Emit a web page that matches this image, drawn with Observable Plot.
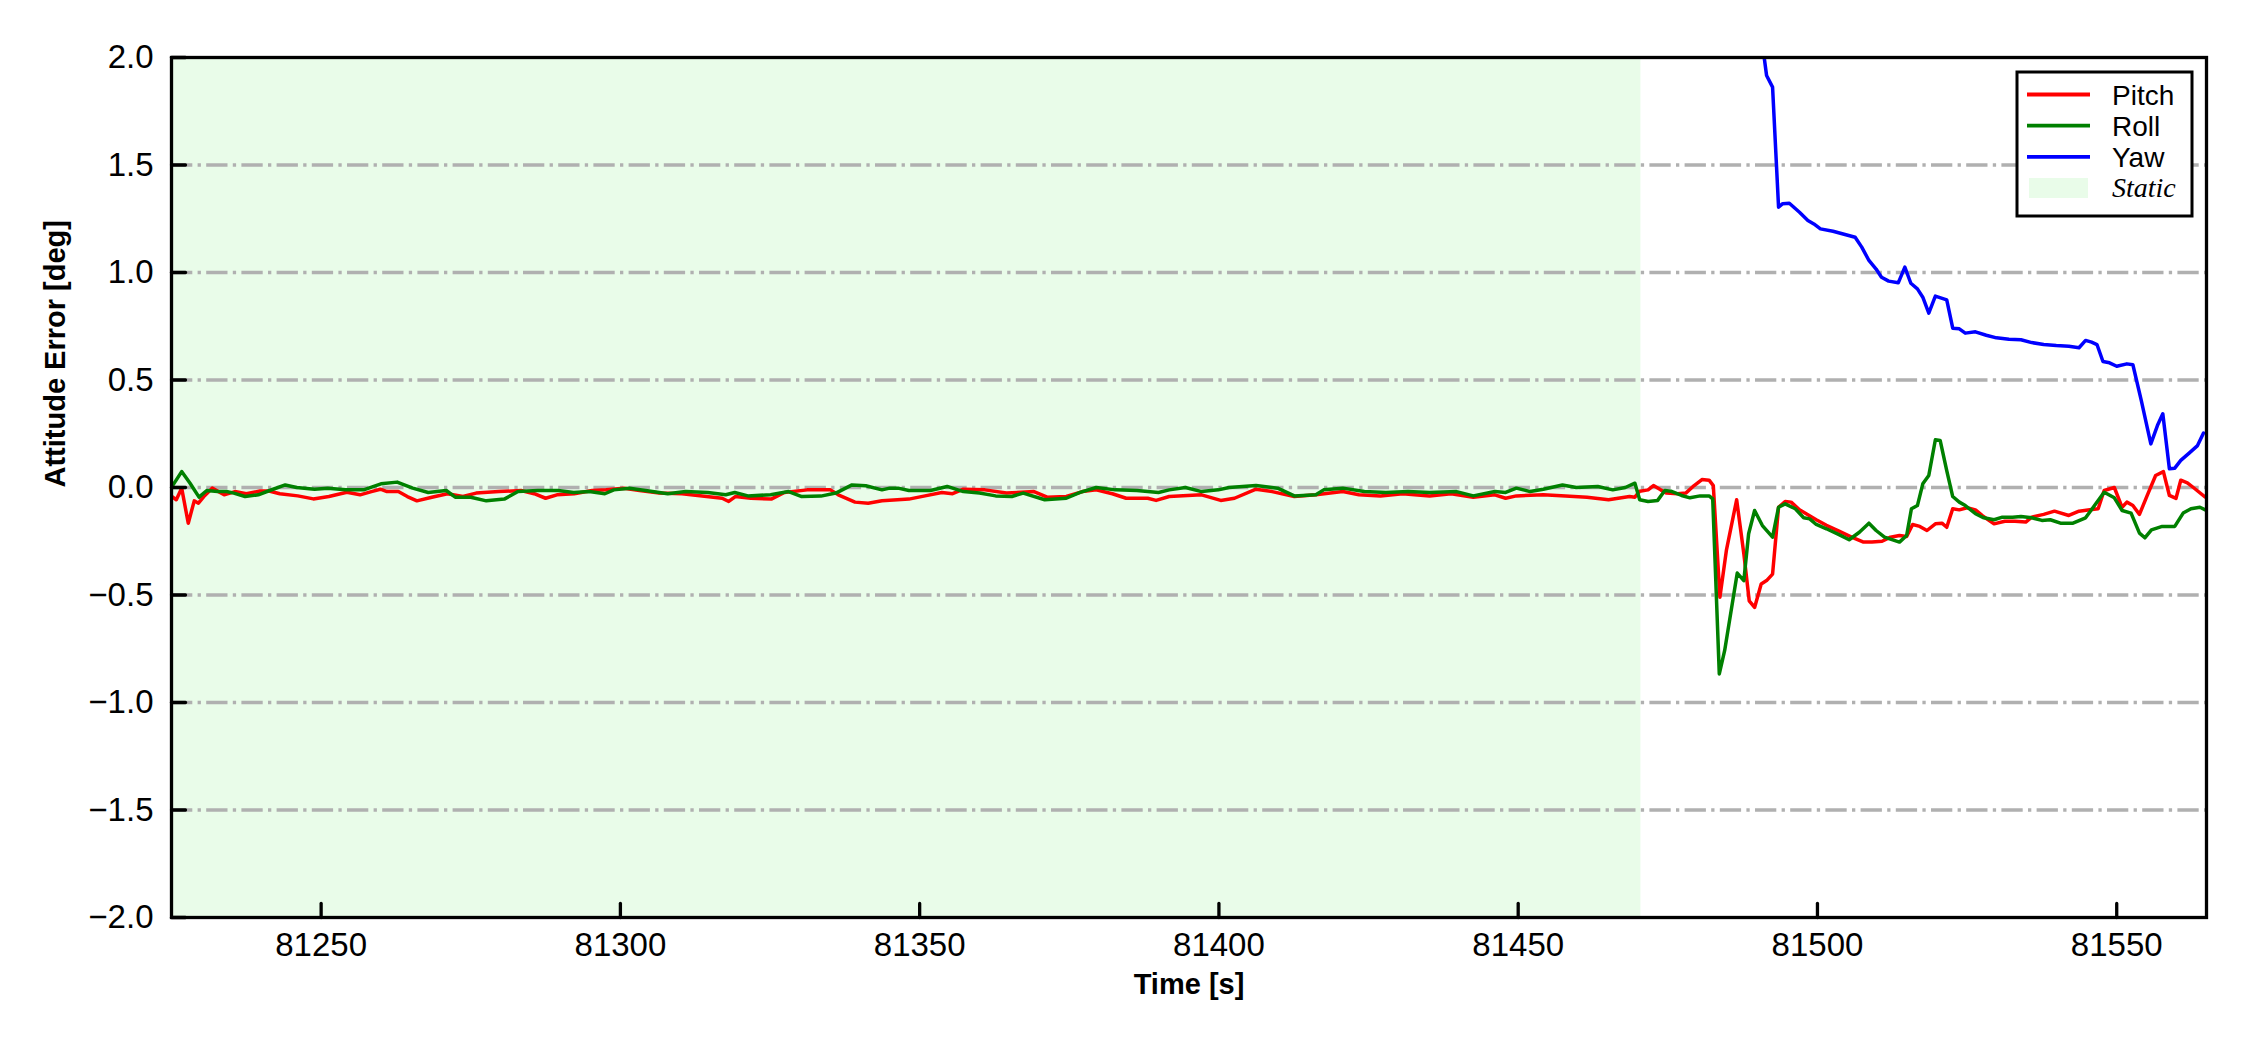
<!DOCTYPE html>
<html><head><meta charset="utf-8">
<script src="https://cdn.jsdelivr.net/npm/d3@7"></script>
<script src="https://cdn.jsdelivr.net/npm/@observablehq/plot@0.6"></script>
<style>html,body{margin:0;padding:0;background:#fff;} #chart{position:relative;width:2250px;height:1050px;}</style>
</head><body><div id="chart"></div>
<script>
// ---- data (time [s], error [deg]) ----
const pitch = [[81225.1,-0.042],[81225.8,-0.057],[81226.7,-0.003],[81227.8,-0.166],[81228.8,-0.062],[81229.5,-0.073],[81230.4,-0.042],[81231.8,-0.003],[81233.8,-0.034],[81235.6,-0.019],[81237.5,-0.029],[81239.8,-0.016],[81241.3,-0.016],[81243.1,-0.029],[81246.1,-0.039],[81248.7,-0.053],[81251.3,-0.042],[81254.3,-0.022],[81256.5,-0.034],[81258.4,-0.019],[81259.9,-0.008],[81261.0,-0.019],[81262.9,-0.019],[81264.4,-0.042],[81266.0,-0.062],[81268.5,-0.045],[81271.1,-0.029],[81273.7,-0.042],[81275.9,-0.026],[81279.7,-0.019],[81283.4,-0.014],[81285.6,-0.029],[81287.5,-0.05],[81289.4,-0.034],[81292.3,-0.029],[81295.3,-0.014],[81297.6,-0.011],[81300.6,-0.003],[81303.2,-0.014],[81306.5,-0.026],[81310.3,-0.029],[81314.4,-0.042],[81317.0,-0.05],[81318.1,-0.065],[81319.2,-0.042],[81321.8,-0.05],[81325.2,-0.054],[81327.4,-0.023],[81331.2,-0.011],[81335.1,-0.011],[81336.4,-0.034],[81339.2,-0.068],[81341.4,-0.073],[81343.7,-0.062],[81348.2,-0.054],[81350.9,-0.039],[81353.7,-0.023],[81355.5,-0.029],[81357.3,-0.008],[81360.9,-0.011],[81364.5,-0.026],[81369.1,-0.019],[81371.3,-0.045],[81374.5,-0.042],[81377.2,-0.019],[81379.5,-0.011],[81382.2,-0.029],[81384.5,-0.05],[81388.1,-0.05],[81389.5,-0.06],[81391.7,-0.042],[81397.1,-0.034],[81400.3,-0.06],[81402.6,-0.05],[81406.2,-0.008],[81408.9,-0.019],[81412.6,-0.042],[81416.2,-0.034],[81420.7,-0.019],[81423.4,-0.034],[81427.0,-0.039],[81430.7,-0.029],[81435.2,-0.039],[81438.8,-0.029],[81442.5,-0.045],[81446.1,-0.034],[81447.9,-0.05],[81449.7,-0.039],[81454.2,-0.034],[81457.9,-0.039],[81461.5,-0.045],[81465.1,-0.057],[81468.6,-0.042],[81469.5,-0.045],[81470.3,-0.017],[81471.7,-0.011],[81472.6,0.009],[81473.8,-0.011],[81474.8,-0.026],[81476.6,-0.029],[81478.0,-0.026],[81479.4,0.009],[81480.7,0.037],[81481.9,0.034],[81482.6,0.009],[81483.7,-0.51],[81484.8,-0.29],[81486.5,-0.057],[81487.7,-0.308],[81488.6,-0.527],[81489.5,-0.558],[81490.6,-0.449],[81491.5,-0.433],[81492.5,-0.403],[81493.5,-0.092],[81494.6,-0.065],[81495.6,-0.068],[81497.0,-0.104],[81498.4,-0.127],[81499.8,-0.15],[81501.5,-0.176],[81503.6,-0.203],[81505.7,-0.231],[81507.7,-0.254],[81509.1,-0.254],[81510.8,-0.25],[81512.2,-0.231],[81513.7,-0.223],[81514.9,-0.228],[81515.9,-0.172],[81517.1,-0.181],[81518.3,-0.2],[81519.7,-0.169],[81520.8,-0.166],[81521.6,-0.185],[81522.6,-0.099],[81523.7,-0.104],[81525.0,-0.094],[81526.4,-0.104],[81527.5,-0.13],[81529.5,-0.169],[81531.3,-0.157],[81533.0,-0.157],[81534.8,-0.161],[81535.8,-0.138],[81537.8,-0.125],[81539.6,-0.11],[81542.0,-0.13],[81543.7,-0.11],[81545.5,-0.104],[81546.9,-0.099],[81547.9,-0.014],[81549.6,0.0],[81550.9,-0.092],[81551.7,-0.068],[81552.7,-0.084],[81553.8,-0.125],[81555.1,-0.037],[81556.5,0.056],[81557.8,0.074],[81558.8,-0.037],[81559.9,-0.051],[81560.7,0.034],[81561.8,0.022],[81562.8,0.0],[81564.8,-0.045]];

const roll = [[81225.1,0.005],[81226.7,0.074],[81228.1,0.02],[81229.6,-0.045],[81230.9,-0.014],[81232.7,-0.019],[81234.2,-0.019],[81235.4,-0.026],[81237.3,-0.042],[81239.5,-0.034],[81241.4,-0.014],[81244.0,0.012],[81245.9,0.0],[81248.9,-0.008],[81251.1,-0.003],[81254.1,-0.011],[81257.1,-0.011],[81260.0,0.017],[81262.7,0.025],[81265.3,-0.003],[81267.9,-0.023],[81270.9,-0.014],[81272.4,-0.045],[81275.0,-0.045],[81277.6,-0.062],[81280.6,-0.054],[81282.9,-0.019],[81286.2,-0.014],[81289.6,-0.014],[81292.2,-0.023],[81294.8,-0.019],[81297.4,-0.029],[81298.9,-0.011],[81301.5,-0.003],[81304.2,-0.014],[81307.9,-0.029],[81310.9,-0.019],[81314.6,-0.023],[81317.6,-0.034],[81319.1,-0.023],[81321.3,-0.039],[81325.1,-0.034],[81328.1,-0.019],[81330.3,-0.042],[81333.5,-0.04],[81336.0,-0.026],[81338.7,0.012],[81341.0,0.008],[81343.7,-0.011],[81345.0,-0.003],[81346.4,-0.003],[81348.2,-0.014],[81351.8,-0.014],[81354.6,0.005],[81357.3,-0.019],[81360.0,-0.026],[81362.7,-0.039],[81365.4,-0.042],[81367.3,-0.026],[81370.9,-0.057],[81374.5,-0.05],[81376.8,-0.023],[81379.5,0.0],[81382.7,-0.011],[81386.3,-0.014],[81389.9,-0.023],[81391.7,-0.011],[81394.4,0.0],[81397.1,-0.019],[81399.9,-0.011],[81401.7,0.0],[81406.2,0.009],[81409.8,-0.003],[81412.6,-0.039],[81416.2,-0.034],[81417.5,-0.011],[81420.7,-0.003],[81424.3,-0.019],[81427.9,-0.023],[81431.6,-0.019],[81435.2,-0.023],[81439.7,-0.019],[81442.5,-0.039],[81446.1,-0.019],[81447.9,-0.023],[81449.7,-0.003],[81452.0,-0.019],[81454.2,-0.008],[81457.4,0.012],[81459.7,0.0],[81463.3,0.005],[81465.8,-0.011],[81467.9,0.0],[81469.5,0.02],[81470.3,-0.057],[81471.7,-0.065],[81473.3,-0.06],[81474.5,-0.014],[81475.5,-0.017],[81477.3,-0.037],[81478.7,-0.048],[81480.4,-0.039],[81481.9,-0.039],[81482.5,-0.053],[81483.6,-0.867],[81484.5,-0.758],[81486.6,-0.398],[81487.7,-0.433],[81488.5,-0.215],[81489.5,-0.107],[81490.8,-0.177],[81492.5,-0.231],[81493.5,-0.092],[81494.6,-0.076],[81496.3,-0.099],[81497.7,-0.141],[81498.7,-0.146],[81499.8,-0.172],[81501.5,-0.192],[81503.6,-0.219],[81505.3,-0.243],[81507.0,-0.208],[81508.6,-0.166],[81509.8,-0.2],[81511.2,-0.231],[81513.7,-0.254],[81514.9,-0.223],[81515.7,-0.099],[81516.7,-0.084],[81517.6,0.017],[81518.6,0.056],[81519.7,0.222],[81520.5,0.219],[81521.6,0.079],[81522.6,-0.042],[81523.7,-0.068],[81524.7,-0.084],[81526.4,-0.122],[81527.8,-0.141],[81529.5,-0.15],[81530.9,-0.138],[81532.6,-0.138],[81534.0,-0.135],[81535.8,-0.141],[81537.5,-0.153],[81538.9,-0.15],[81540.6,-0.166],[81542.7,-0.166],[81544.8,-0.141],[81546.5,-0.076],[81547.9,-0.022],[81549.6,-0.048],[81550.9,-0.107],[81552.4,-0.119],[81553.8,-0.212],[81554.7,-0.234],[81555.8,-0.197],[81557.6,-0.181],[81559.7,-0.181],[81561.1,-0.119],[81562.4,-0.099],[81563.9,-0.092],[81564.8,-0.104]];

const yaw = [[81490.6,2.25],[81491.1,2.0],[81491.5,1.916],[81492.5,1.862],[81493.5,1.304],[81494.2,1.32],[81495.3,1.322],[81497.0,1.28],[81498.4,1.242],[81499.4,1.226],[81500.5,1.203],[81502.6,1.192],[81504.6,1.177],[81506.3,1.164],[81507.4,1.118],[81508.6,1.056],[81509.8,1.016],[81510.7,0.978],[81511.9,0.96],[81513.5,0.952],[81514.6,1.025],[81515.6,0.95],[81516.7,0.924],[81517.6,0.885],[81518.6,0.811],[81519.7,0.89],[81521.6,0.873],[81522.6,0.741],[81523.7,0.738],[81524.7,0.718],[81526.4,0.724],[81528.2,0.708],[81529.9,0.696],[81532.0,0.69],[81534.0,0.687],[81535.8,0.674],[81537.8,0.665],[81539.9,0.66],[81542.0,0.657],[81543.7,0.65],[81544.8,0.684],[81545.8,0.676],[81546.7,0.665],[81547.7,0.586],[81548.8,0.58],[81550.0,0.564],[81551.7,0.575],[81552.7,0.571],[81554.1,0.405],[81555.7,0.203],[81556.8,0.288],[81557.7,0.343],[81558.8,0.087],[81559.7,0.09],[81560.7,0.126],[81562.1,0.16],[81563.5,0.195],[81564.5,0.253]];

const staticSpan = [[81225, 81470.5]];
const xDomain = [81225, 81565];
const yDomain = [-2, 2];
const xTicks = [81250, 81300, 81350, 81400, 81450, 81500, 81550];
const yTicks = [-2, -1.5, -1, -0.5, 0, 0.5, 1, 1.5, 2];
const seriesNames = ["Pitch", "Roll", "Yaw"];
const seriesColors = ["#ff0000", "#008000", "#0000ff"];
const staticLabel = "Static";
const staticColor = "#e9fce9";
const xLabel = "Time [s]";
const yLabel = "Attitude Error [deg]";

// ---- chart ----
const tickShape = {draw(ctx, l) { ctx.moveTo(0, 0); ctx.lineTo(0, -l); }};
const fmtY = d => (d < 0 ? "\u2212" : "") + Math.abs(d).toFixed(1);
const lineOpts = (data, i) => Plot.line(data, {x: d => d[0], y: d => d[1], stroke: seriesColors[i], strokeWidth: 3.5, strokeLinejoin: "round", clip: true});

const svg = Plot.plot({
  width: 2250, height: 1050,
  marginLeft: 171, marginRight: 44, marginTop: 57, marginBottom: 133,
  style: {fontFamily: "'Liberation Sans', Arial, Helvetica, sans-serif", fontSize: "33px", background: "#fff", color: "#000"},
  x: {domain: xDomain},
  y: {domain: yDomain},
  marks: [
    Plot.rect(staticSpan, {x1: d => d[0], x2: d => d[1], y1: yDomain[0], y2: yDomain[1], fill: staticColor}),
    Plot.ruleY(yTicks.filter(v => v > yDomain[0] && v < yDomain[1]), {stroke: "#b0b0b0", strokeWidth: 3.3, strokeDasharray: "21.3,5.3,3.3,5.3"}),
    lineOpts(pitch, 0),
    lineOpts(roll, 1),
    lineOpts(yaw, 2),
    Plot.vector(yTicks, {x: xDomain[0], y: d => d, length: 14, rotate: 90, anchor: "start", shape: tickShape, stroke: "black", strokeWidth: 3.3}),
    Plot.vector(xTicks, {x: d => d, y: yDomain[0], length: 14, rotate: 0, anchor: "start", shape: tickShape, stroke: "black", strokeWidth: 3.3}),
    Plot.frame({stroke: "black", strokeWidth: 3.3}),
    Plot.axisX({ticks: xTicks, tickSize: 0, tickPadding: 15, tickFormat: d => String(d), label: null, fontSize: 33}),
    Plot.axisY({ticks: yTicks, tickSize: 0, tickPadding: 18, tickFormat: fmtY, label: null, fontSize: 33}),
    Plot.text([xLabel], {frameAnchor: "bottom", dy: 76, text: d => d, fontWeight: "bold", fontSize: 29}),
    Plot.text([yLabel], {frameAnchor: "left", dx: -116, rotate: -90, text: d => d, fontWeight: "bold", fontSize: 29})
  ]
});
document.getElementById("chart").appendChild(svg);

// ---- legend (inside axes, upper right) ----
const lg = d3.select(svg).append("g").attr("text-anchor", "start");
lg.append("rect").attr("x", 2017).attr("y", 72).attr("width", 175).attr("height", 144)
  .attr("fill", "#fff").attr("stroke", "#000").attr("stroke-width", 3);
const rowY = [94.5, 125.7, 156.8];
seriesNames.forEach((name, i) => {
  lg.append("line").attr("x1", 2027).attr("x2", 2090).attr("y1", rowY[i]).attr("y2", rowY[i])
    .attr("stroke", seriesColors[i]).attr("stroke-width", 3.8);
  lg.append("text").attr("x", 2112).attr("y", rowY[i] + 10.5).attr("font-size", 28)
    .attr("text-anchor", "start")
    .attr("font-family", "'Liberation Sans', Arial, sans-serif").attr("fill", "#000").text(name);
});
lg.append("rect").attr("x", 2029).attr("y", 178).attr("width", 59).attr("height", 20).attr("fill", staticColor);
lg.append("text").attr("x", 2112).attr("y", 197).attr("font-size", 28).attr("font-style", "italic")
  .attr("text-anchor", "start")
  .attr("font-family", "'Liberation Serif', 'Times New Roman', serif").attr("fill", "#000").text(staticLabel);
</script>
</body></html>
